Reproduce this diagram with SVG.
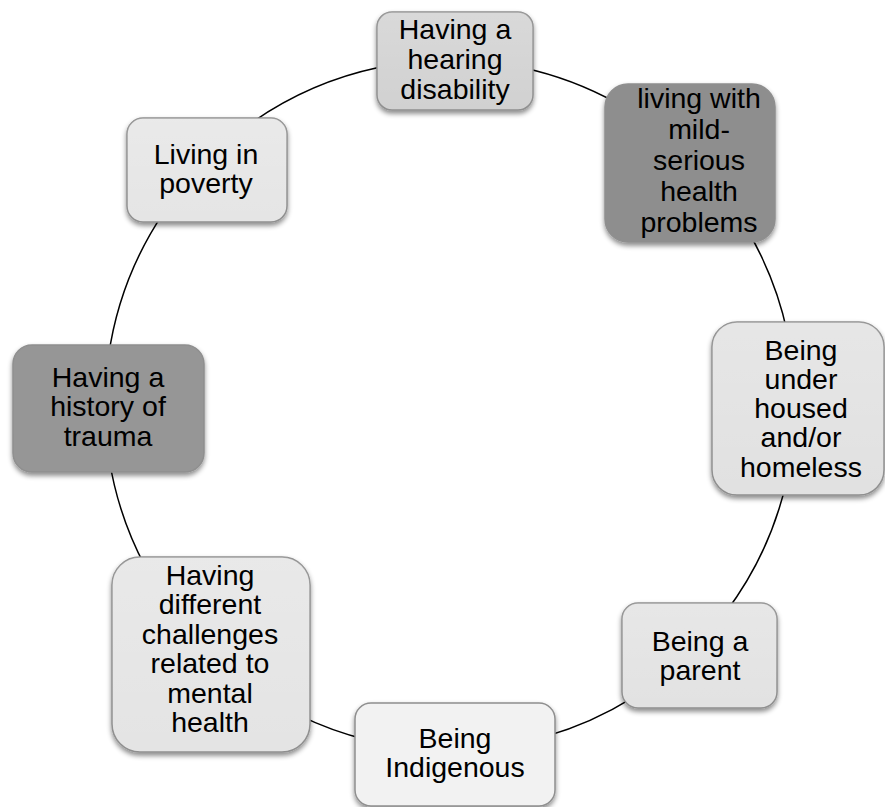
<svg xmlns="http://www.w3.org/2000/svg" width="885" height="807" viewBox="0 0 885 807">
  <defs>
    <filter id="shadow" x="-10%" y="-10%" width="120%" height="125%">
      <feDropShadow dx="0" dy="3" stdDeviation="2.5" flood-color="#000" flood-opacity="0.45"/>
    </filter>
    <linearGradient id="sheen" x1="0" y1="0" x2="0" y2="1">
      <stop offset="0" stop-color="#fff" stop-opacity="0.18"/>
      <stop offset="1" stop-color="#fff" stop-opacity="0"/>
    </linearGradient>
    <style>
      .box { stroke: #8f8f8f; stroke-width: 1.5; filter: url(#shadow); }
      .sheen { fill: url(#sheen); stroke: none; }
      .lbl { font-family: "Liberation Sans", Arial, sans-serif; font-size: 28.5px; fill: #000; text-anchor: middle; }
      .arc { fill: none; stroke: #000; stroke-width: 1.5; }
    </style>
  </defs>

  <rect width="885" height="807" fill="#fff"/>

  <!-- ring of connectors: arcs of one circle, centre (450,405), r 345 -->
  <g id="connectors">
    <path class="arc" d="M521.7 67.5 A345 345 0 0 1 617.3 103.3"/>
    <path class="arc" d="M748.8 232.5 A345 345 0 0 1 787.5 333.3"/>
    <path class="arc" d="M786.2 482.6 A345 345 0 0 1 725.5 612.6"/>
    <path class="arc" d="M632.8 697.6 A345 345 0 0 1 545.1 736.6"/>
    <path class="arc" d="M366.5 739.7 A345 345 0 0 1 298.8 715.1"/>
    <path class="arc" d="M145.4 567.0 A345 345 0 0 1 109.2 459.0"/>
    <path class="arc" d="M108.4 357.0 A345 345 0 0 1 164.0 212.1"/>
    <path class="arc" d="M247.2 125.9 A345 345 0 0 1 378.3 67.5"/>
  </g>

  <g id="hearing">
    <rect class="box" x="377" y="12" width="156" height="98" rx="15" fill="#d1d1d1"/>
    <rect class="sheen" x="377" y="12" width="156" height="98" rx="15"/>
    <text class="lbl" x="455"><tspan x="455" y="39">Having a</tspan><tspan x="455" y="69">hearing</tspan><tspan x="455" y="99">disability</tspan></text>
  </g>

  <g id="health">
    <rect class="box" x="605" y="84" width="170" height="158" rx="23" fill="#8e8e8e"/>
    <text class="lbl"><tspan x="699" y="108">living with</tspan><tspan x="699" y="139">mild-</tspan><tspan x="699" y="170">serious</tspan><tspan x="699" y="201">health</tspan><tspan x="699" y="232">problems</tspan></text>
  </g>

  <g id="housing">
    <rect class="box" x="712" y="322" width="172" height="173" rx="25" fill="#e1e1e1"/>
    <rect class="sheen" x="712" y="322" width="172" height="173" rx="25"/>
    <text class="lbl"><tspan x="801" y="360">Being</tspan><tspan x="801" y="389">under</tspan><tspan x="801" y="418">housed</tspan><tspan x="801" y="447">and/or</tspan><tspan x="801" y="477">homeless</tspan></text>
  </g>

  <g id="parent">
    <rect class="box" x="622" y="603" width="155" height="105" rx="16" fill="#e2e2e2"/>
    <rect class="sheen" x="622" y="603" width="155" height="105" rx="16"/>
    <text class="lbl"><tspan x="700" y="651">Being a</tspan><tspan x="700" y="680">parent</tspan></text>
  </g>

  <g id="indigenous">
    <rect class="box" x="355" y="703" width="200" height="103" rx="16" fill="#f2f2f2"/>
    <text class="lbl"><tspan x="455" y="748">Being</tspan><tspan x="455" y="777">Indigenous</tspan></text>
  </g>

  <g id="mental">
    <rect class="box" x="112" y="557" width="198" height="195" rx="28" fill="#e4e4e4"/>
    <rect class="sheen" x="112" y="557" width="198" height="195" rx="28"/>
    <text class="lbl"><tspan x="210" y="585">Having</tspan><tspan x="210" y="614">different</tspan><tspan x="210" y="644">challenges</tspan><tspan x="210" y="673">related to</tspan><tspan x="210" y="703">mental</tspan><tspan x="210" y="732">health</tspan></text>
  </g>

  <g id="trauma">
    <rect class="box" x="13" y="345" width="191" height="127" rx="19" fill="#969696"/>
    <text class="lbl"><tspan x="108" y="387">Having a</tspan><tspan x="108" y="416">history of</tspan><tspan x="108" y="446">trauma</tspan></text>
  </g>

  <g id="poverty">
    <rect class="box" x="127" y="118" width="160" height="104" rx="16" fill="#e5e5e5"/>
    <rect class="sheen" x="127" y="118" width="160" height="104" rx="16"/>
    <text class="lbl"><tspan x="206" y="164">Living in</tspan><tspan x="206" y="193">poverty</tspan></text>
  </g>
</svg>
